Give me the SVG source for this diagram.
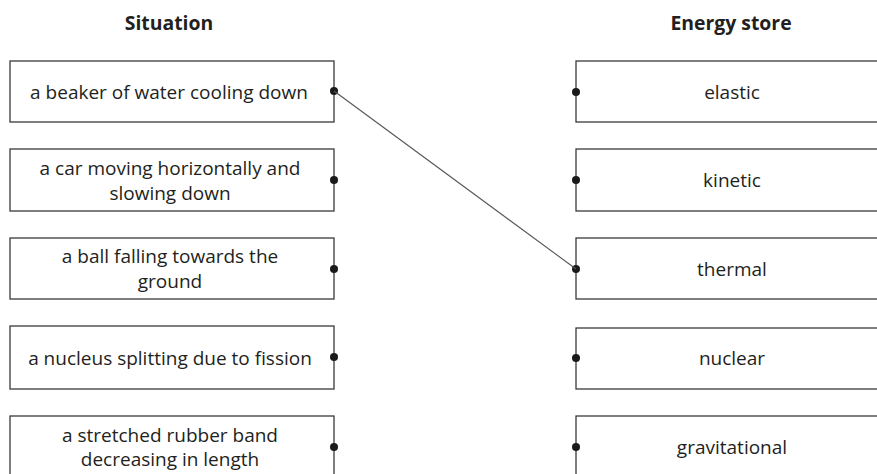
<svg xmlns="http://www.w3.org/2000/svg" width="877" height="474" viewBox="0 0 877 474">
<style>
text{font-family:"Open Sans","Noto Sans","Liberation Sans",sans-serif;fill:#231f20;font-size:19px;text-anchor:middle}
.h{font-weight:bold;font-size:19.4px}
.box{fill:#fff;stroke:#3a3a3a;stroke-width:1.3}
.dot{fill:#1a1a1a}
.conn{stroke:#555;stroke-width:1.1;fill:none}
</style>
<rect width="877" height="474" fill="#fff"/>
<text class="h" x="169" y="30">Situation</text>
<text class="h" x="731" y="30">Energy store</text>
<g id="s1"><rect class="box" x="10" y="61" width="324" height="61"/><text x="169" y="98.5">a beaker of water cooling down</text><circle class="dot" cx="334" cy="91" r="4"/></g>
<g id="s2"><rect class="box" x="10" y="149" width="324" height="62"/><text x="170" y="175">a car moving horizontally and</text><text x="170" y="199.5">slowing down</text><circle class="dot" cx="334" cy="180" r="4"/></g>
<g id="s3"><rect class="box" x="10" y="238" width="324" height="61"/><text x="170" y="263">a ball falling towards the</text><text x="170" y="287.5">ground</text><circle class="dot" cx="334" cy="269" r="4"/></g>
<g id="s4"><rect class="box" x="10" y="326" width="324" height="63"/><text x="170" y="365">a nucleus splitting due to fission</text><circle class="dot" cx="334" cy="357" r="4"/></g>
<g id="s5"><rect class="box" x="10" y="416" width="324" height="62"/><text x="170" y="441.5">a stretched rubber band</text><text x="170" y="466">decreasing in length</text><circle class="dot" cx="334" cy="447" r="4"/></g>
<g id="e1"><rect class="box" x="576" y="61" width="314" height="61"/><text x="732" y="99">elastic</text><circle class="dot" cx="576" cy="92" r="4"/></g>
<g id="e2"><rect class="box" x="576" y="149" width="314" height="62"/><text x="732" y="187">kinetic</text><circle class="dot" cx="576" cy="180" r="4"/></g>
<g id="e3"><rect class="box" x="576" y="238" width="314" height="61"/><text x="732" y="276">thermal</text><circle class="dot" cx="576" cy="269" r="4"/></g>
<g id="e4"><rect class="box" x="576" y="328" width="314" height="61"/><text x="732" y="365">nuclear</text><circle class="dot" cx="576" cy="358" r="4"/></g>
<g id="e5"><rect class="box" x="576" y="416" width="314" height="62"/><text x="732" y="454">gravitational</text><circle class="dot" cx="576" cy="447" r="4"/></g>
<g id="connectors"><line class="conn" x1="334" y1="91" x2="576" y2="269"/></g>
</svg>
